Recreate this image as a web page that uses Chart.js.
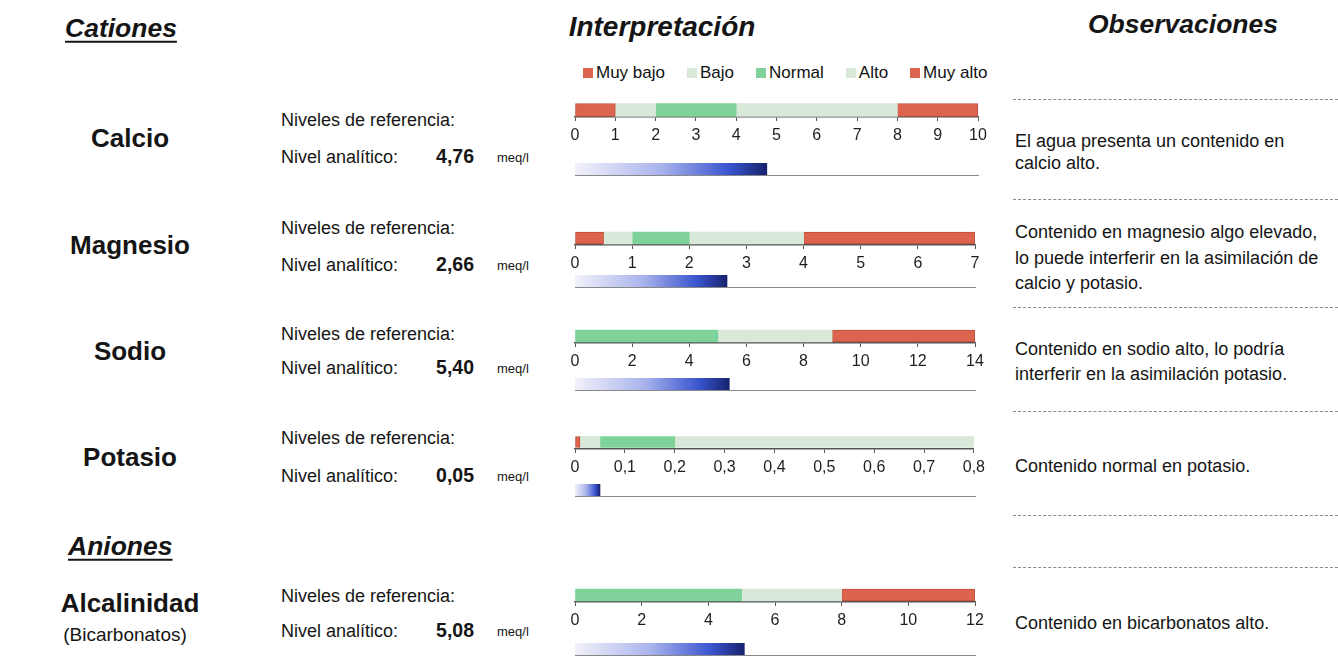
<!DOCTYPE html>
<html lang="es">
<head>
<meta charset="UTF-8">
<title>Cationes y aniones - interpretación</title>
<script src="https://cdn.jsdelivr.net/npm/chart.js"></script>
<style>
  body { margin: 0; background: #fff; font-family: "Liberation Sans", Arial, sans-serif; color: #151515; }
  #page { position: relative; width: 1338px; height: 661px; overflow: hidden; }
  .t { position: absolute; white-space: nowrap; line-height: 1; }
  .h { font-weight: bold; font-style: italic; font-size: 26.5px; }
  .h2 { font-weight: bold; font-style: italic; font-size: 28px; }
  .u { text-decoration: underline; text-decoration-thickness: 2px; text-underline-offset: 4px; }
  .nombre { font-weight: bold; font-size: 26px; }
  .sub { font-size: 19px; }
  .lbl { font-size: 18px; }
  .val { font-weight: bold; font-size: 19.5px; }
  .unit { font-size: 13px; }
  .obs { font-size: 18px; }
  .dash { position: absolute; left: 1013px; width: 325px; border-top: 1px dashed #8a8a8a; }
  #leyenda { position: absolute; left: 583px; top: 63px; height: 19px; display: flex; align-items: center; gap: 22px; font-size: 17px; color: #111; white-space: nowrap; }
  #leyenda span { display: flex; align-items: center; }
  #leyenda i { display: inline-block; width: 10px; height: 10px; margin-right: 3px; }
  canvas { position: absolute; }
</style>
</head>
<body>
<div id="page"><div id="leyenda"></div></div>
<script>
const elementos = ['Calcio', 'Magnesio', 'Sodio', 'Potasio', 'Alcalinidad'];
const valores = [4.76, 2.66, 5.40, 0.05, 5.08];
const escalaMax = [10, 7, 14, 0.8, 12];
const escalaPaso = [1, 1, 2, 0.1, 2];
const bandas = ['Muy bajo', 'Bajo', 'Normal', 'Alto', 'Muy alto'];
// límites de las bandas: inicio, fin Muy bajo, fin Bajo, fin Normal, fin Alto, fin Muy alto
const limites = [
  [0, 1, 2, 4, 8, 10],
  [0, 0.5, 1, 2, 4, 7],
  [0, 0, 0, 5, 9, 14],
  [0, 0.01, 0.05, 0.2, 0.8, 0.8],
  [0, 0, 0, 5, 8, 12]
];
const observaciones = [
  ['El agua presenta un contenido en', 'calcio alto.'],
  ['Contenido en magnesio algo elevado,', 'lo puede interferir en la asimilación de', 'calcio y potasio.'],
  ['Contenido en sodio alto, lo podría', 'interferir en la asimilación potasio.'],
  ['Contenido normal en potasio.'],
  ['Contenido en bicarbonatos alto.']
];

const coloresBanda = ['#dc634e', '#d8e9da', '#7fd29a', '#d8e9da', '#dc634e'];

// posiciones verticales de cada fila (px)
const filas = [
  { nombre: 138, ref: 120, nivel: 157, banda: 103, grosor: 13, valor: 163, obs: [141, 163], right: 978 },
  { nombre: 245, ref: 228, nivel: 265, banda: 231, grosor: 12, valor: 275, obs: [232, 258, 283], right: 975 },
  { nombre: 351, ref: 334, nivel: 368, banda: 329, grosor: 12, valor: 378, obs: [349, 374], right: 975 },
  { nombre: 457, ref: 438, nivel: 476, banda: 435, grosor: 11, valor: 484, obs: [466], right: 975 },
  { nombre: 603, ref: 596, nivel: 631, banda: 588, grosor: 12, valor: 643, obs: [623], right: 975 }
];

Chart.defaults.font.family = '"Liberation Sans", Arial, sans-serif';
Chart.defaults.color = '#222';

const page = document.getElementById('page');
const fmt = v => (Math.round(v * 100) / 100).toString().replace('.', ',');
const fmt2 = v => v.toFixed(2).replace('.', ',');

function txt(s, x, y, cls, align) {
  const d = document.createElement('div');
  d.className = 't ' + cls;
  d.textContent = s;
  d.style.left = x + 'px';
  d.style.top = y + 'px';
  const tx = align === 'center' ? '-50%' : align === 'right' ? '-100%' : '0';
  d.style.transform = `translate(${tx}, -50%)`;
  page.appendChild(d);
}

function canvasAt(left, top, w, h) {
  const cv = document.createElement('canvas');
  cv.width = w; cv.height = h;
  cv.style.left = left + 'px'; cv.style.top = top + 'px';
  cv.style.width = w + 'px'; cv.style.height = h + 'px';
  page.appendChild(cv);
  return cv;
}

// leyenda en HTML a partir de los elementos de leyenda del gráfico
const leyendaHtml = {
  id: 'leyendaHtml',
  afterUpdate(chart) {
    const cont = document.getElementById('leyenda');
    cont.innerHTML = '';
    const items = Chart.defaults.plugins.legend.labels.generateLabels(chart);
    items.forEach(it => {
      const s = document.createElement('span');
      const b = document.createElement('i');
      b.style.background = it.fillStyle;
      s.appendChild(b);
      s.appendChild(document.createTextNode(it.text));
      cont.appendChild(s);
    });
  }
};

// encabezados
txt('Cationes', 65, 28, 'h u', 'left');
txt('Interpretación', 662, 27, 'h2', 'center');
txt('Observaciones', 1183, 24, 'h', 'center');
txt('Aniones', 68, 546, 'h u', 'left');
txt('(Bicarbonatos)', 125, 634, 'sub', 'center');

[99, 199, 307, 411, 515, 567].forEach(y => {
  const d = document.createElement('div');
  d.className = 'dash';
  d.style.top = y + 'px';
  page.appendChild(d);
});

const AREA = 14;   // alto del área de la barra de referencia
const EJE = 30;    // alto reservado para el eje

function bandChart(i, f) {
  const w = f.right + 15 - 560;
  const cv = canvasAt(560, f.banda, w, AREA + EJE);
  const lim = limites[i];
  const datasets = bandas.map((b, k) => {
    const ancho = lim[k + 1] - lim[k];
    const rojo = k === 0 || k === 4;
    return {
      label: b,
      data: [ancho > 0 ? ancho : null],
      backgroundColor: coloresBanda[k],
      borderColor: rojo ? '#c24b39' : coloresBanda[k],
      borderWidth: rojo ? 1 : 0,
      borderSkipped: false,
      barThickness: f.grosor
    };
  });
  new Chart(cv, {
    type: 'bar',
    data: { labels: [elementos[i]], datasets },
    plugins: i === 0 ? [leyendaHtml] : [],
    options: {
      indexAxis: 'y',
      responsive: false,
      animation: false,
      events: [],
      layout: { padding: { left: 15, right: 15, top: 0, bottom: 0 } },
      plugins: { tooltip: { enabled: false }, legend: { display: false } },
      scales: {
        x: {
          stacked: true, min: 0, max: escalaMax[i],
          afterFit: s => { s.height = EJE; },
          border: { color: '#555', width: 1.5 },
          grid: { drawOnChartArea: false, tickLength: 4, color: '#555' },
          ticks: { stepSize: escalaPaso[i], autoSkip: false, maxRotation: 0, padding: 5,
                   color: '#1e1e1e', font: { size: 16 }, callback: v => fmt(v) }
        },
        y: { stacked: true, display: false }
      }
    }
  });
}

function valueChart(i, f) {
  const w = f.right + 15 - 560;
  const cv = canvasAt(560, f.valor, w, 14);
  new Chart(cv, {
    type: 'bar',
    data: {
      labels: [elementos[i]],
      datasets: [{
        label: 'Nivel analítico',
        data: [valores[i]],
        barThickness: 12,
        backgroundColor: ctx => {
          const chart = ctx.chart;
          const area = chart.chartArea;
          if (!area) return '#3548c0';
          const x1 = chart.scales.x.getPixelForValue(valores[i]);
          const g = chart.ctx.createLinearGradient(area.left, 0, x1, 0);
          g.addColorStop(0, '#f2f2fa');
          g.addColorStop(0.45, '#a9b3ec');
          g.addColorStop(0.8, '#3a55cf');
          g.addColorStop(1, '#17226e');
          return g;
        }
      }]
    },
    options: {
      indexAxis: 'y',
      responsive: false,
      animation: false,
      events: [],
      layout: { padding: { left: 15, right: 15, top: 0, bottom: 2 } },
      plugins: { legend: { display: false }, tooltip: { enabled: false } },
      scales: {
        x: {
          min: 0, max: escalaMax[i],
          border: { color: '#888', width: 1 },
          grid: { display: false, drawTicks: false },
          ticks: { display: false }
        },
        y: { display: false }
      }
    }
  });
}

filas.forEach((f, i) => {
  txt(elementos[i], 130, f.nombre, 'nombre', 'center');
  txt('Niveles de referencia:', 281, f.ref, 'lbl', 'left');
  txt('Nivel analítico:', 281, f.nivel, 'lbl', 'left');
  txt(fmt2(valores[i]), 474, f.nivel, 'val', 'right');
  txt('meq/l', 497, f.nivel, 'unit', 'left');
  observaciones[i].forEach((line, k) => txt(line, 1015, f.obs[k], 'obs', 'left'));
  bandChart(i, f);
  valueChart(i, f);
});
</script>
</body>
</html>
